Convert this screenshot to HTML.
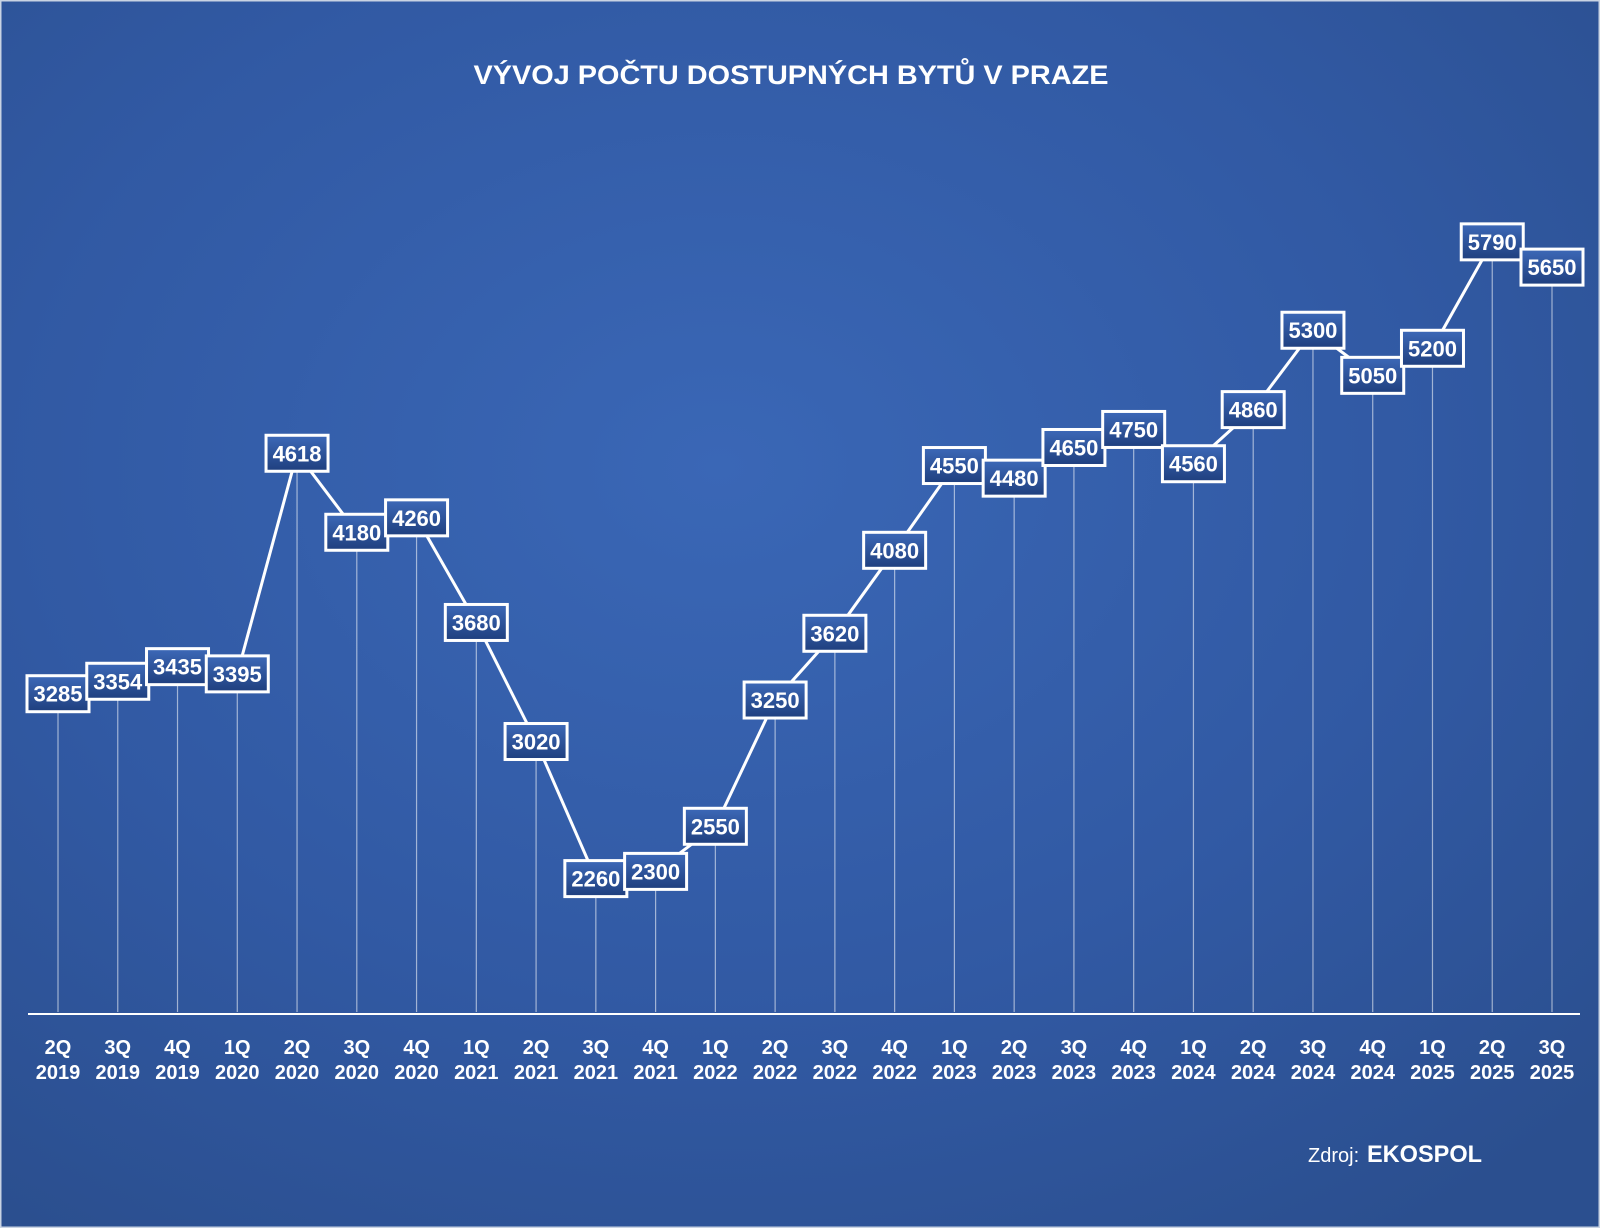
<!DOCTYPE html>
<html><head><meta charset="utf-8"><style>
html,body{margin:0;padding:0;background:#2d5193}
svg{display:block}
text{font-family:"Liberation Sans",sans-serif;font-weight:bold;fill:#fff}
</style></head><body>
<svg width="1600" height="1228" viewBox="0 0 1600 1228" xmlns="http://www.w3.org/2000/svg">
<defs>
<radialGradient id="bg" cx="0.45" cy="0.38" r="0.75">
<stop offset="0" stop-color="#3a67b6"/>
<stop offset="0.6" stop-color="#3159a3"/>
<stop offset="1" stop-color="#2b4f8f"/>
</radialGradient>
<linearGradient id="lb" x1="0" y1="0" x2="0" y2="1">
<stop offset="0" stop-color="#3d69b8"/>
<stop offset="1" stop-color="#1f3f7e"/>
</linearGradient>
</defs>
<rect x="0" y="0" width="1600" height="1228" fill="url(#bg)"/>
<rect x="0.5" y="0.5" width="1599" height="1227" fill="none" stroke="#c9d3e3" stroke-width="2"/>
<text x="791" y="84" font-size="27" text-anchor="middle" textLength="635" lengthAdjust="spacingAndGlyphs">VÝVOJ POČTU DOSTUPNÝCH BYTŮ V PRAZE</text>
<line x1="28" y1="1014" x2="1580" y2="1014" stroke="#fff" stroke-width="2"/>
<g id="chart"></g>
<text x="1308" y="1162" font-size="20" style="font-weight:normal">Zdroj:</text>
<text x="1367" y="1162" font-size="24" textLength="115" lengthAdjust="spacingAndGlyphs">EKOSPOL</text>
</svg>
<script>
var vals=[3285,3354,3435,3395,4618,4180,4260,3680,3020,2260,2300,2550,3250,3620,4080,4550,4480,4650,4750,4560,4860,5300,5050,5200,5790,5650];
var labs=["2Q 2019","3Q 2019","4Q 2019","1Q 2020","2Q 2020","3Q 2020","4Q 2020","1Q 2021","2Q 2021","3Q 2021","4Q 2021","1Q 2022","2Q 2022","3Q 2022","4Q 2022","1Q 2023","2Q 2023","3Q 2023","4Q 2023","1Q 2024","2Q 2024","3Q 2024","4Q 2024","1Q 2025","2Q 2025","3Q 2025"];
var g=document.getElementById('chart'),s="";
function X(i){return 58+i*59.76}
function Y(v){return 878.6-(v-2260)*0.18038}
for(var i=0;i<vals.length;i++){s+='<line x1="'+X(i)+'" y1="'+Y(vals[i])+'" x2="'+X(i)+'" y2="1012" stroke="rgba(255,255,255,0.55)" stroke-width="1.2"/>';}
var p="";for(i=0;i<vals.length;i++)p+=X(i)+","+Y(vals[i])+" ";
s+='<polyline points="'+p+'" fill="none" stroke="#fff" stroke-width="3"/>';
for(i=0;i<vals.length;i++){var x=X(i),y=Y(vals[i]);
s+='<rect x="'+(x-31)+'" y="'+(y-18)+'" width="62" height="36" fill="url(#lb)" stroke="#fff" stroke-width="3"/>';
s+='<text x="'+x+'" y="'+(y+8)+'" font-size="22" text-anchor="middle">'+vals[i]+'</text>';
var l=labs[i].split(" ");
s+='<text x="'+x+'" y="1054" font-size="20" text-anchor="middle">'+l[0]+'</text>';
s+='<text x="'+x+'" y="1079" font-size="20" text-anchor="middle">'+l[1]+'</text>';}
g.innerHTML=s;
</script>
</body></html>
